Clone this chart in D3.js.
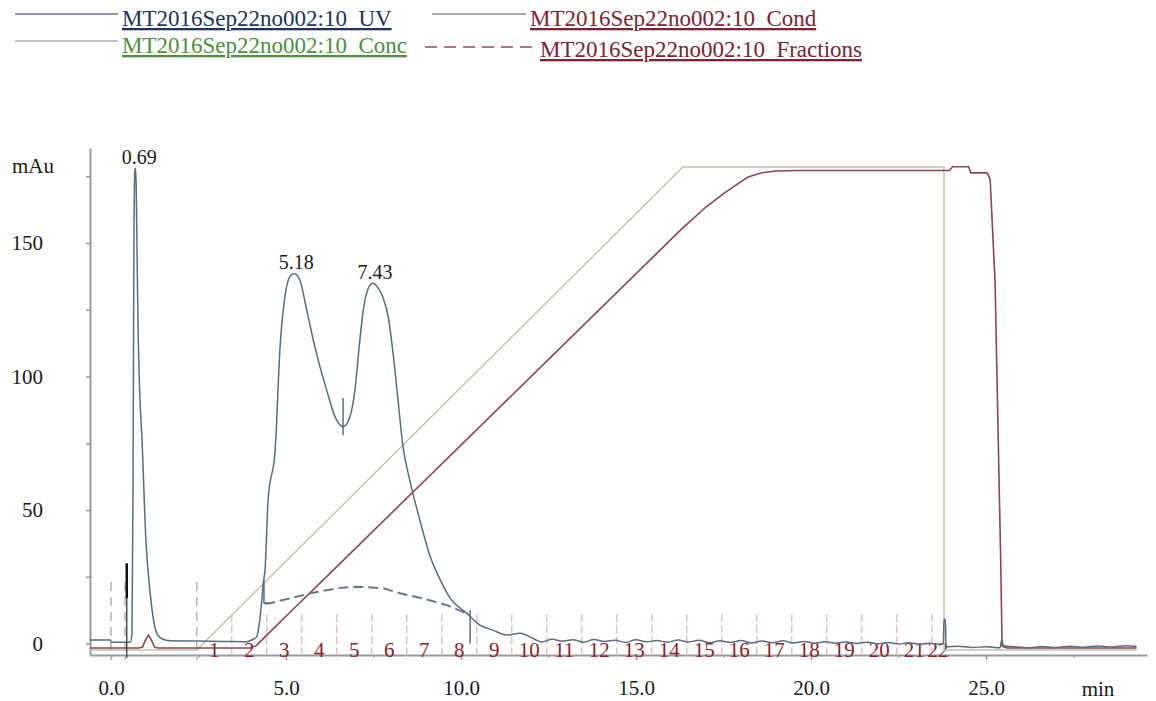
<!DOCTYPE html>
<html>
<head>
<meta charset="utf-8">
<script src="https://cdn.jsdelivr.net/npm/d3@7"></script>
<style>
  html, body { margin: 0; padding: 0; background: #fff; }
  svg { display: block; }
  text { font-family: "Liberation Serif", "DejaVu Serif", serif; }
</style>
</head>
<body>
<svg id="chart" width="1156" height="701"></svg>
<script>
// legend names
const seriesNames = [
  "MT2016Sep22no002:10_UV",
  "MT2016Sep22no002:10_Cond",
  "MT2016Sep22no002:10_Conc",
  "MT2016Sep22no002:10_Fractions"
];

// UV trace [min, mAu]
const uvData = [
  [-0.6, 1.3], [-0.02, 1.3], [0.02, 0.45], [0.55, 0.45], [0.6, 4], [0.63, 60], [0.655, 150],
  [0.68, 177], [0.7, 178], [0.72, 171], [0.75, 140], [0.78, 114], [0.9, 72], [1.0, 38],
  [1.08, 24], [1.16, 14], [1.24, 7], [1.32, 3.5], [1.45, 1.8], [1.7, 1.0], [2.5, 0.9],
  [3.2, 0.8], [3.88, 0.7], [4.05, 1.5], [4.16, 2.5], [4.26, 10], [4.3, 15], [4.35, 22.6],
  [4.4, 27.5], [4.49, 54], [4.69, 72.5], [4.83, 111], [4.97, 130], [5.11, 137.4], [5.23, 138.6],
  [5.4, 136], [5.59, 125], [5.78, 113.7], [5.97, 103.7], [6.16, 95], [6.4, 85], [6.64, 81.2],
  [6.83, 85], [6.97, 95], [7.11, 113.7], [7.21, 125], [7.35, 133], [7.48, 134.9], [7.64, 133],
  [7.78, 129.3], [7.92, 122.4], [8.07, 107.4], [8.21, 90], [8.33, 75], [8.54, 61], [8.83, 46],
  [9.11, 33], [9.4, 24], [9.69, 17], [10.17, 11.3], [10.54, 6.9], [10.91, 5.0], [11.3, 3.2],
  [11.69, 3.8], [12.06, 1.9], [12.3, 0.6], [12.6, 1.6], [12.9, 0.9], [13.2, 1.4], [13.5, 0.5],
  [13.8, 1.5], [14.1, 0.8], [14.4, 1.2], [14.7, 0.4], [15.0, 1.4], [15.3, 0.7], [15.6, 1.1],
  [15.9, 0.5], [16.2, 1.3], [16.5, 0.6], [16.8, 1.2], [17.1, 0.3], [17.4, 1.0], [17.7, 0.4],
  [18.0, 1.1], [18.3, 0.2], [18.6, 0.9], [18.9, 0.3], [19.2, 1.0], [19.5, 0.2], [19.8, 0.8],
  [20.1, 0.1], [20.4, 0.7], [20.7, 0.1], [21.0, 0.6], [21.3, 0.0], [21.6, 0.5], [21.9, -0.1],
  [22.2, 0.4], [22.5, -0.2], [22.8, 0.3], [23.1, -0.3], [23.4, 0.1], [23.7, -0.3], [23.78, 0],
  [23.8, 9], [23.84, 9], [23.86, -1.3], [24.2, -1.0], [24.6, -1.5], [25.0, -1.2], [25.4, -1.6],
  [25.45, 1.5], [25.5, -0.8], [25.8, -1.2], [26.2, -1.6], [26.6, -1.1], [27.0, -1.5],
  [27.4, -1.0], [27.8, -1.4], [28.2, -0.9], [28.6, -1.3], [29.0, -0.8], [29.3, -1.1]
];

// conductivity trace, drawn on the mAu axis
const condData = [
  [-0.6, -1.7], [0.8, -1.7], [0.9, -1.3], [0.98, 1.2], [1.07, 3.2], [1.16, 1.2], [1.25, -1.4],
  [1.35, -1.7], [3.97, -1.7], [4.15, -0.8], [4.4, 2.5], [5.0, 10.2], [6.35, 27.5],
  [16.3, 155.2], [17.0, 163.5], [17.5, 168.5], [18.0, 173.0], [18.2, 174.7], [18.6, 176.3],
  [19.0, 177.0], [19.6, 177.2], [23.95, 177.2], [24.05, 178.6], [24.5, 178.6], [24.57, 176.3],
  [25.03, 176.3], [25.1, 174.5], [25.12, 173.5], [25.26, 135], [25.42, 31], [25.46, -1.0],
  [25.6, -1.7], [29.3, -1.7]
];

// concentration (gradient) trace
const concData = [
  [-0.6, -2.4], [2.45, -2.4], [16.34, 178.5], [23.8, 178.5], [23.8, -2.4], [29.3, -2.4]
];

// pooled fraction curve (dashed)
const fracCurve = [
  [4.4, 15.1], [4.54, 15.1], [5.11, 16.9], [5.69, 18.8], [6.45, 20.7], [7.02, 21.3],
  [7.77, 20.7], [8.26, 18.8], [8.91, 16.9], [9.59, 14.4], [10.16, 11.3]
];

// fraction boundaries (min) and their labels
const fracBounds = [2.45, 3.45, 4.45, 5.45, 6.45, 7.45, 8.45, 9.45, 10.45, 11.45, 12.45, 13.45,
  14.45, 15.45, 16.45, 17.45, 18.45, 19.45, 20.45, 21.45, 22.45, 23.45, 23.8];
const fracLabels = ["1", "2", "3", "4", "5", "6", "7", "8", "9", "10", "11", "12", "13", "14",
  "15", "16", "17", "18", "19", "20", "21", "22"];

// injection marks and peak cut marks [min, from mAu, to mAu]
const injectMarks = [0, 0.4];
const peakCuts = [[4.37, 24, 15], [6.63, 92, 78], [10.26, 12.5, 0]];

// peak retention labels [min, mAu]
const peaks = [[0.69, 178], [5.18, 138.6], [7.43, 134.9]];

const xTicks = [0, 5, 10, 15, 20, 25];
const xMinorTicks = [2.5, 7.5, 12.5, 17.5, 22.5, 27.5];
const yTicks = [0, 25, 50, 75, 100, 125, 150, 175];
const yUnit = "mAu";
const xUnit = "min";

const svg = d3.select("#chart");
svg.append("rect").attr("width", 1156).attr("height", 701).attr("fill", "#ffffff");

const xScale = d3.scaleLinear().domain([-0.6, 29.6]).range([90, 1147]);
const yScale = d3.scaleLinear().domain([-4.3, 185.6]).range([655, 148]);

const serif = "'Liberation Serif', 'DejaVu Serif', serif";
const axisColor = "#9a9a9a";

// axes
const xAxis = d3.axisBottom(xScale).tickValues(xTicks).tickFormat(d3.format(".1f"))
  .tickSizeInner(5).tickSizeOuter(0).tickPadding(20);
const xAxisMinor = d3.axisBottom(xScale).tickValues(xMinorTicks).tickFormat("")
  .tickSizeInner(3).tickSizeOuter(0);
const yAxis = d3.axisLeft(yScale).tickValues(yTicks)
  .tickFormat(d => d % 50 === 0 ? d : "")
  .tickSizeInner(4).tickSizeOuter(0).tickPadding(43);

const gx = svg.append("g").attr("transform", "translate(0,655)").call(xAxis);
svg.append("g").attr("transform", "translate(0,655)").call(xAxisMinor)
  .call(g => g.select(".domain").remove())
  .selectAll("line").attr("stroke", axisColor);
gx.select(".domain").attr("stroke", axisColor).attr("stroke-width", 2);
gx.selectAll(".tick line").attr("stroke", axisColor).attr("stroke-width", 1.5);
gx.selectAll(".tick text").attr("font-family", serif).attr("font-size", 21).attr("fill", "#1a1a1a");

const gy = svg.append("g").attr("transform", "translate(90,0)").call(yAxis);
gy.select(".domain").attr("stroke", axisColor).attr("stroke-width", 2);
gy.selectAll(".tick line").attr("stroke", axisColor).attr("stroke-width", 1.5);
gy.selectAll(".tick text").attr("font-family", serif).attr("font-size", 21).attr("fill", "#1a1a1a");

svg.append("text").attr("x", 12).attr("y", 173).attr("font-size", 21).attr("fill", "#1a1a1a").text(yUnit);
svg.append("text").attr("x", xScale(28.2)).attr("y", 696).attr("text-anchor", "middle")
  .attr("font-size", 21).attr("fill", "#1a1a1a").text(xUnit);

const line = d3.line().x(d => xScale(d[0])).y(d => yScale(d[1]));

// injection markers (tall dashed) and fraction start
svg.selectAll(".inj").data(injectMarks.concat([fracBounds[0]])).enter().append("line")
  .attr("x1", d => xScale(d)).attr("x2", d => xScale(d))
  .attr("y1", yScale(23)).attr("y2", 660)
  .attr("stroke", "#b4b4b4").attr("stroke-width", 1.5).attr("stroke-dasharray", "9,6");

// fraction dividers
svg.selectAll(".fdiv").data(fracBounds.slice(1, -1)).enter().append("line")
  .attr("x1", d => xScale(d)).attr("x2", d => xScale(d))
  .attr("y1", yScale(11)).attr("y2", 659)
  .attr("stroke", "#dcc6ca").attr("stroke-width", 1.5).attr("stroke-dasharray", "8,3");

// fraction labels
svg.selectAll(".flab").data(fracLabels).enter().append("text")
  .attr("x", (d, i) => xScale((fracBounds[i] + fracBounds[i + 1]) / 2))
  .attr("y", 657).attr("text-anchor", "middle")
  .attr("font-size", 21).attr("fill", "#8a1f2e").text(d => d);

// concentration
svg.append("path").datum(concData).attr("d", line)
  .attr("fill", "none").attr("stroke", "#bcc6aa").attr("stroke-width", 1.4);

// conductivity
svg.append("path").datum(condData).attr("d", line)
  .attr("fill", "none").attr("stroke", "#8a4654").attr("stroke-width", 1.6);

// pooled fraction curve
svg.append("path").datum(fracCurve).attr("d", line)
  .attr("fill", "none").attr("stroke", "#6a7786").attr("stroke-width", 2)
  .attr("stroke-dasharray", "10,5");

// UV
svg.append("path").datum(uvData).attr("d", d3.line().curve(d3.curveMonotoneX)
    .x(d => xScale(d[0])).y(d => yScale(d[1])))
  .attr("fill", "none").attr("stroke", "#5d6b7c").attr("stroke-width", 1.5);

// peak cut marks
svg.selectAll(".cut").data(peakCuts).enter().append("line")
  .attr("x1", d => xScale(d[0])).attr("x2", d => xScale(d[0]))
  .attr("y1", d => yScale(d[1])).attr("y2", d => yScale(d[2]))
  .attr("stroke", "#5d6b7c").attr("stroke-width", 1.5);
svg.append("line")
  .attr("x1", xScale(peakCuts[0][0])).attr("x2", xScale(peakCuts[0][0]) + 6)
  .attr("y1", yScale(peakCuts[0][2])).attr("y2", yScale(peakCuts[0][2]))
  .attr("stroke", "#5d6b7c").attr("stroke-width", 1.5);

// injection line
svg.append("line")
  .attr("x1", xScale(0.45)).attr("x2", xScale(0.45))
  .attr("y1", yScale(30)).attr("y2", 658)
  .attr("stroke", "#3a3a3a").attr("stroke-width", 1.3);
svg.append("line")
  .attr("x1", xScale(0.45)).attr("x2", xScale(0.45))
  .attr("y1", yScale(30)).attr("y2", yScale(17))
  .attr("stroke", "#111").attr("stroke-width", 2.5);

// peak labels
svg.selectAll(".plab").data(peaks).enter().append("text")
  .attr("x", d => xScale(d[0]) + 4).attr("y", d => yScale(d[1]) - 4)
  .attr("text-anchor", "middle").attr("font-size", 20).attr("fill", "#1a1a1a")
  .text(d => d[0].toFixed(2));

// legend
const legend = [
  { x: 15, y: 14, tx: 122, ty: 26, stroke: "#6c7684", dash: null, fill: "#22345a" },
  { x: 432, y: 14, tx: 530, ty: 26, stroke: "#8c8c8c", dash: null, fill: "#7b2433" },
  { x: 15, y: 41, tx: 122, ty: 53, stroke: "#b0b0b0", dash: null, fill: "#4f8f3f" },
  { x: 425, y: 47, tx: 540, ty: 57, stroke: "#9b4a58", dash: "12,7", fill: "#7b2433" }
];
const lg = svg.append("g");
legend.forEach((l, i) => {
  lg.append("line").attr("x1", l.x).attr("x2", l.tx - 4).attr("y1", l.y).attr("y2", l.y)
    .attr("stroke", l.stroke).attr("stroke-width", 1.6)
    .attr("stroke-dasharray", l.dash);
  lg.append("text").attr("x", l.tx).attr("y", l.ty).attr("font-size", 23)
    .attr("fill", l.fill).style("text-decoration", "underline")
    .text(seriesNames[i]);
});
</script>
</body>
</html>
